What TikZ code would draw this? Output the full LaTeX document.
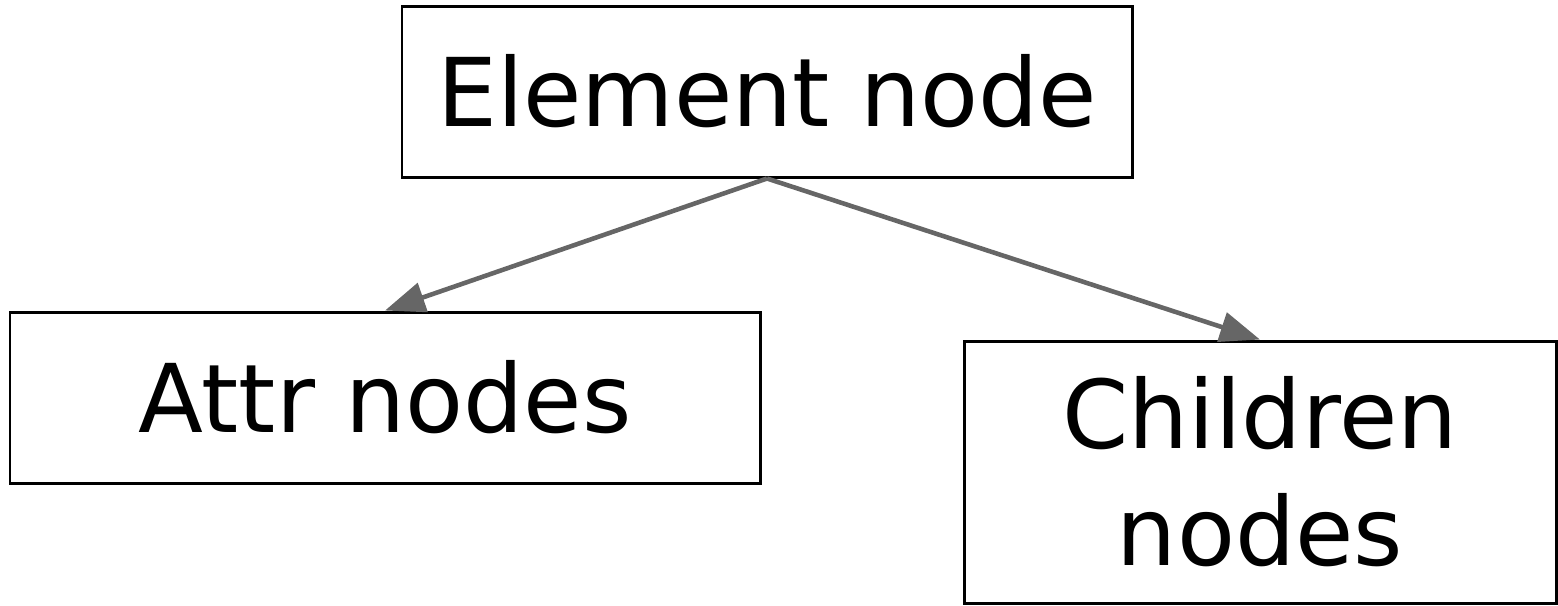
\documentclass[tikz,border=0pt]{standalone}
\usepackage{fontspec}
\setmainfont{DejaVu Sans}
\usetikzlibrary{arrows.meta}
\begin{document}
\begin{tikzpicture}[
        box/.style={draw=black, line width=0.85pt, fill=white, align=center,
            inner sep=0pt, font=\fontsize{27pt}{33.3pt}\selectfont},
        link/.style={draw=linkgray, line width=1.3pt,
            -{Triangle[length=0.4cm,width=0.3cm]}}]
        \useasboundingbox (0,0) rectangle (15.58,-6.05);
        \colorlet{linkgray}{black!60}
        % the three boxes
        \node[box, minimum width=7.30cm, minimum height=1.71cm] (elem) at (7.67,-0.915) {Element node};
        \node[box, minimum width=7.50cm, minimum height=1.71cm] (attr) at (3.85,-3.975) {Attr nodes};
        \node[box, minimum width=5.92cm, minimum height=2.62cm] (child) at (12.60,-4.72) {Children\\nodes};
        % links from the element
        \draw[link] (elem.south) -- (attr.north);
        \draw[link] (elem.south) -- (child.north);
    \end{tikzpicture}
\end{document}
